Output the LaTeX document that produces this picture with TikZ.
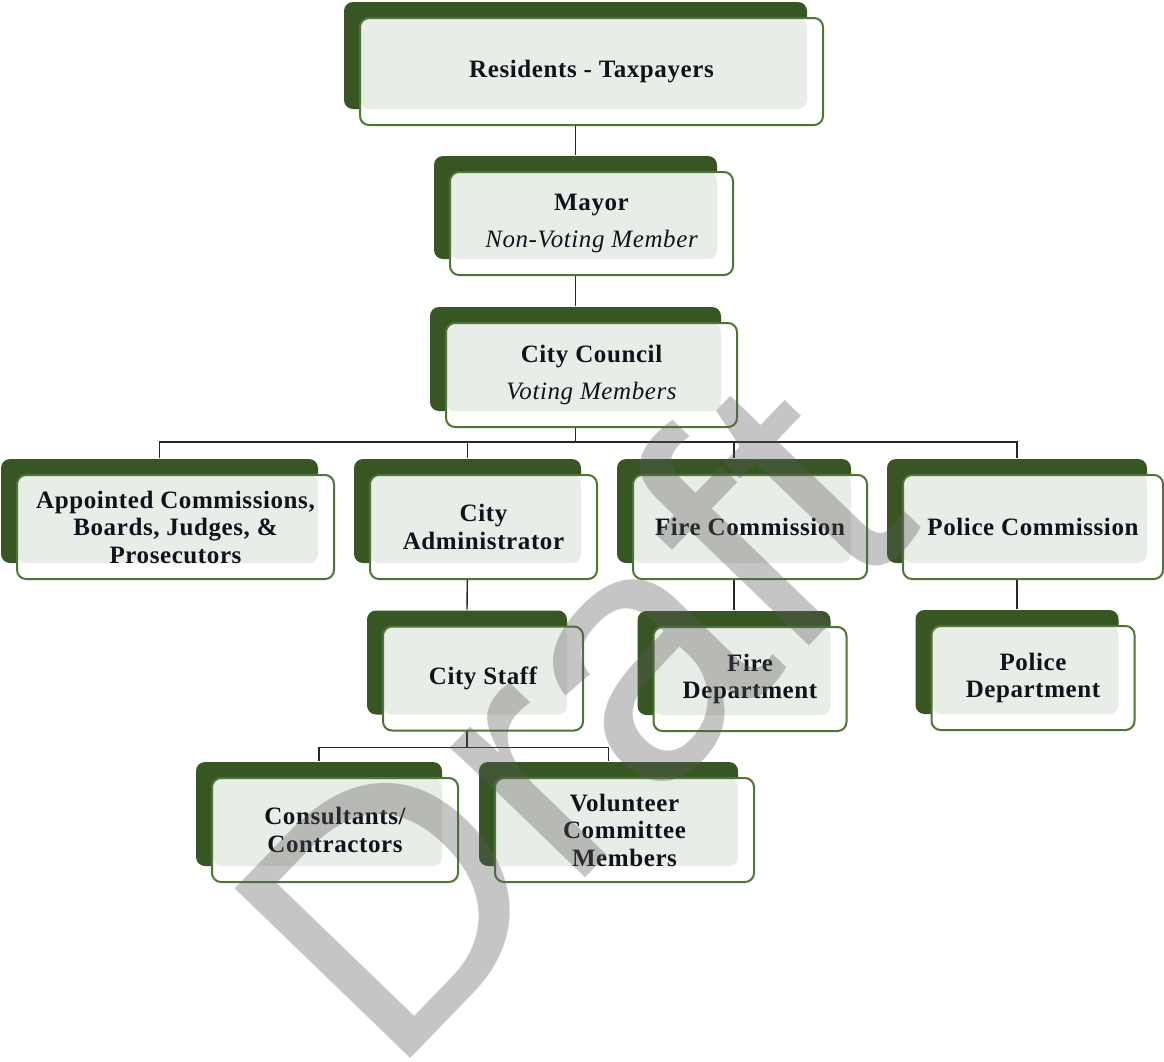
\documentclass[tikz,border=0pt]{standalone}
\usepackage{fontspec}
\setmainfont{Liberation Serif}
\newfontfamily\boxfont[LetterSpace=2.4]{Liberation Serif}
\newfontfamily\markfont{Liberation Sans}
\usetikzlibrary{shadows,backgrounds}

\definecolor{orgdark}{HTML}{375623}
\definecolor{orgline}{HTML}{4E7536}
\definecolor{orglight}{HTML}{E9EDE7}
\definecolor{orgtext}{HTML}{10131C}
\definecolor{markgray}{HTML}{5A5A5A}

\newcommand{\orgsub}[1]{{\mdseries\itshape #1}}

\begin{document}
\begin{tikzpicture}[x=1pt,y=-1pt,
  orgbox/.style={draw=orgline, line width=2pt, fill=white, rounded corners=9pt,
    align=center, inner sep=0pt, text=orgtext,
    font=\boxfont\bfseries\fontsize{25}{27.5}\selectfont,
    general shadow={fill=orgdark, shadow xshift=-16pt, shadow yshift=16pt},
    path picture={\fill[orglight, rounded corners=9pt]
      (path picture bounding box.north west) rectangle
      ([xshift=-16pt,yshift=16pt]path picture bounding box.south east);}},
  bk/.style={xshift=-16pt,yshift=16pt},
  link/.style={draw=black!85, line width=1.4pt}]
  \useasboundingbox (0,0) rectangle (1164,1061);

  % Top of the chart
  \node[orgbox, minimum width=463pt, minimum height=107pt] (res) at (591.5,71.5) {Residents - Taxpayers};
  \node[orgbox, minimum width=283pt, minimum height=103pt] (may) at (591.5,223.5) {Mayor\\[9pt]\orgsub{Non-Voting Member}};
  \node[orgbox, minimum width=291pt, minimum height=104pt] (cc) at (591.5,375) {City Council\\[9pt]\orgsub{Voting Members}};

  % Under the council
  \node[orgbox, minimum width=317pt, minimum height=104pt] (app) at (175.5,527) {Appointed Commissions,\\Boards, Judges, \&\\Prosecutors};
  \node[orgbox, minimum width=227pt, minimum height=104pt] (adm) at (483.5,527) {City\\Administrator};
  \node[orgbox, minimum width=234pt, minimum height=104pt] (fc) at (750,527) {Fire Commission};
  \node[orgbox, minimum width=260pt, minimum height=104pt] (pc) at (1033,527) {Police Commission};

  % Departments
  \node[orgbox, minimum width=200pt, minimum height=104pt] (cs) at (483,678.5) {City Staff};
  \node[orgbox, minimum width=193pt, minimum height=104pt] (fd) at (750,679) {Fire\\Department};
  \node[orgbox, minimum width=203pt, minimum height=104pt] (pd) at (1033,678) {Police\\Department};

  % Under the staff
  \node[orgbox, minimum width=246pt, minimum height=104pt] (con) at (335,830) {Consultants/\\Contractors};
  \node[orgbox, minimum width=259pt, minimum height=104pt] (vol) at (624.5,830) {Volunteer\\Committee\\Members};

  % Lines
  \begin{scope}[on background layer]
    \draw[link] ([bk]res.south) -- ([bk]may.north);
    \draw[link] ([bk]may.south) -- ([bk]cc.north);
    \foreach \n in {app,adm,fc,pc}
      \draw[link] ([bk]cc.south) -- ++(0,30) -| ([bk]\n.north);
    \draw[link] ([bk]adm.south) -- ([bk]cs.north);
    \draw[link] ([bk]fc.south) -- ([bk]fd.north);
    \draw[link] ([bk]pc.south) -- ([bk]pd.north);
    \foreach \n in {con,vol}
      \draw[link] ([bk]cs.south) -- ++(0,32) -| ([bk]\n.north);
  \end{scope}

  % Watermark
  \node[font=\markfont\fontsize{355}{355}\selectfont, text=markgray, text opacity=0.35,
    rotate=46, anchor=base west, inner sep=0pt] (mark) at (390,1080) {Draft};
\end{tikzpicture}
\end{document}
